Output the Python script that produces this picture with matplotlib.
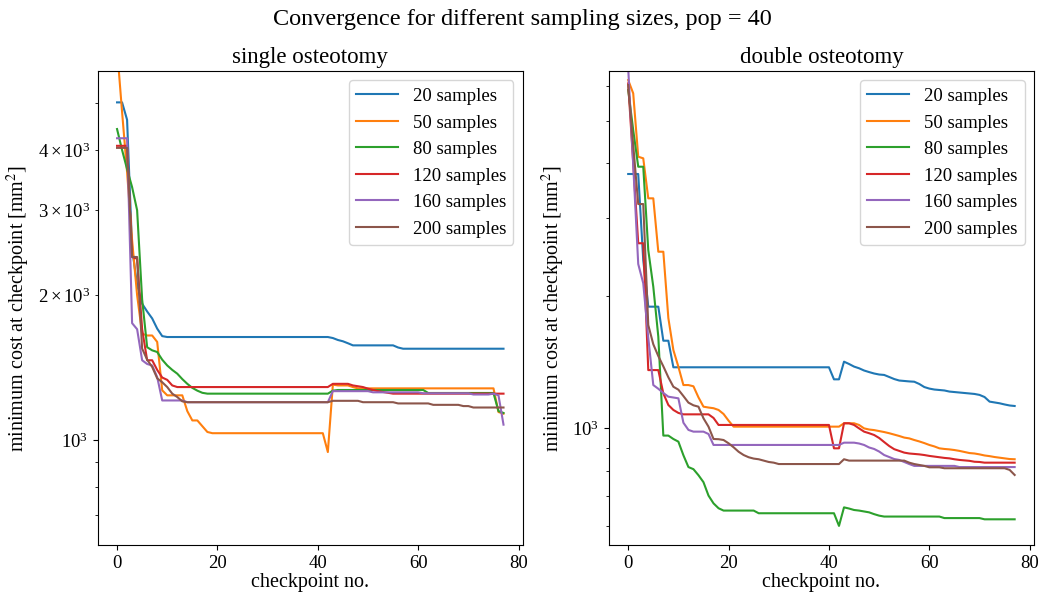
import matplotlib
matplotlib.use('Agg')
import matplotlib.pyplot as plt
import numpy as np

plt.rcParams['font.family'] = 'serif'
plt.rcParams['font.serif'] = ['Liberation Serif', 'DejaVu Serif']
plt.rcParams['mathtext.fontset'] = 'stix'
plt.rc('font', size=13.5)

checkpoints = np.arange(78)
sample_labels = ['20 samples', '50 samples', '80 samples',
                 '120 samples', '160 samples', '200 samples']

# single osteotomy, minimum cost per checkpoint
single_20 = [5020, 5020, 4620, 2500, 2100, 1920, 1850, 1790, 1705, 1645,
             1638, 1638, 1638, 1638, 1638, 1638, 1638, 1638, 1638, 1638,
             1638, 1638, 1638, 1638, 1638, 1638, 1638, 1638, 1638, 1638,
             1638, 1638, 1638, 1638, 1638, 1638, 1638, 1638, 1638, 1638,
             1638, 1638, 1638, 1630, 1615, 1605, 1590, 1574, 1574, 1574,
             1574, 1574, 1574, 1574, 1574, 1574, 1558, 1549, 1549, 1549,
             1549, 1549, 1549, 1549, 1549, 1549, 1549, 1549, 1549, 1549,
             1549, 1549, 1549, 1549, 1549, 1549, 1549, 1549]
single_50 = [6500, 4800, 3600, 2600, 2000, 1664, 1650, 1650, 1600, 1270,
             1240, 1240, 1240, 1240, 1150, 1100, 1100, 1070, 1041, 1035,
             1035, 1035, 1035, 1035, 1035, 1035, 1035, 1035, 1035, 1035,
             1035, 1035, 1035, 1035, 1035, 1035, 1035, 1035, 1035, 1035,
             1035, 1035, 946, 1305, 1300, 1300, 1300, 1290, 1282, 1282,
             1282, 1282, 1282, 1282, 1282, 1282, 1282, 1282, 1282, 1282,
             1282, 1282, 1282, 1282, 1282, 1282, 1282, 1282, 1282, 1282,
             1282, 1282, 1282, 1282, 1282, 1282, 1145, 1136]
single_80 = [4420, 4000, 3650, 3350, 3000, 1960, 1560, 1537, 1525, 1470,
             1430, 1400, 1375, 1340, 1310, 1285, 1268, 1255, 1250, 1250,
             1250, 1250, 1250, 1250, 1250, 1250, 1250, 1250, 1250, 1250,
             1250, 1250, 1250, 1250, 1250, 1250, 1250, 1250, 1250, 1250,
             1250, 1250, 1250, 1268, 1272, 1272, 1272, 1272, 1272, 1272,
             1272, 1272, 1272, 1272, 1272, 1272, 1272, 1272, 1272, 1272,
             1272, 1272, 1254, 1254, 1254, 1254, 1254, 1254, 1254, 1254,
             1254, 1254, 1254, 1254, 1254, 1254, 1150, 1140]
single_120 = [4080, 4080, 4080, 2400, 2380, 1700, 1466, 1466, 1400, 1350,
              1335, 1300, 1290, 1290, 1290, 1290, 1290, 1290, 1290, 1290,
              1290, 1290, 1290, 1290, 1290, 1290, 1290, 1290, 1290, 1290,
              1290, 1290, 1290, 1290, 1290, 1290, 1290, 1290, 1290, 1290,
              1290, 1290, 1290, 1310, 1310, 1310, 1310, 1300, 1295, 1290,
              1280, 1272, 1265, 1260, 1255, 1250, 1250, 1250, 1250, 1250,
              1250, 1250, 1250, 1250, 1250, 1250, 1250, 1250, 1250, 1250,
              1250, 1250, 1250, 1250, 1250, 1250, 1250, 1250]
single_160 = [4230, 4230, 4230, 1750, 1700, 1466, 1440, 1430, 1353, 1210,
              1210, 1210, 1210, 1210, 1200, 1200, 1200, 1200, 1200, 1200,
              1200, 1200, 1200, 1200, 1200, 1200, 1200, 1200, 1200, 1200,
              1200, 1200, 1200, 1200, 1200, 1200, 1200, 1200, 1200, 1200,
              1200, 1200, 1200, 1265, 1265, 1265, 1265, 1265, 1265, 1265,
              1265, 1258, 1258, 1258, 1258, 1258, 1258, 1258, 1258, 1258,
              1258, 1252, 1252, 1252, 1252, 1252, 1252, 1252, 1252, 1252,
              1252, 1245, 1245, 1245, 1245, 1250, 1240, 1078]
single_200 = [4040, 4040, 4040, 2400, 2400, 1550, 1470, 1420, 1345, 1320,
              1290, 1250, 1230, 1205, 1200, 1200, 1200, 1200, 1200, 1200,
              1200, 1200, 1200, 1200, 1200, 1200, 1200, 1200, 1200, 1200,
              1200, 1200, 1200, 1200, 1200, 1200, 1200, 1200, 1200, 1200,
              1200, 1200, 1200, 1208, 1208, 1208, 1208, 1208, 1208, 1200,
              1200, 1200, 1200, 1200, 1200, 1200, 1193, 1193, 1193, 1193,
              1193, 1193, 1193, 1185, 1185, 1185, 1185, 1185, 1185, 1178,
              1178, 1170, 1170, 1170, 1170, 1170, 1170, 1170]

# double osteotomy
double_20 = [3779, 3779, 3779, 2409, 1887, 1887, 1887, 1579, 1579, 1374,
             1374, 1374, 1374, 1374, 1374, 1374, 1374, 1374, 1374, 1374,
             1374, 1374, 1374, 1374, 1374, 1374, 1374, 1374, 1374, 1374,
             1374, 1374, 1374, 1374, 1374, 1374, 1374, 1374, 1374, 1374,
             1374, 1290, 1290, 1415, 1398, 1379, 1367, 1351, 1340, 1330,
             1323, 1320, 1306, 1292, 1282, 1279, 1276, 1274, 1259, 1239,
             1229, 1223, 1220, 1217, 1210, 1207, 1204, 1201, 1198, 1195,
             1189, 1176, 1148, 1143, 1138, 1131, 1125, 1122]
double_50 = [6179, 5764, 4137, 4102, 3327, 3327, 2516, 2516, 1778, 1504,
             1378, 1252, 1252, 1244, 1174, 1118, 1113, 1109, 1099, 1076,
             1039, 1007, 1007, 1007, 1007, 1007, 1007, 1007, 1007, 1007,
             1007, 1007, 1007, 1007, 1007, 1007, 1007, 1007, 1007, 1007,
             1007, 1007, 1007, 1025, 1025, 1025, 1016, 998, 992, 989,
             984, 979, 973, 966, 959, 951, 947, 939, 932, 924,
             915, 908, 899, 896, 894, 891, 887, 882, 877, 875,
             871, 866, 863, 859, 856, 853, 850, 849]
double_80 = [5865, 4756, 3926, 3926, 2538, 2095, 1613, 961, 961, 944,
             931, 867, 815, 806, 781, 753, 702, 674, 657, 649,
             649, 649, 649, 649, 649, 649, 640, 640, 640, 640,
             640, 640, 640, 640, 640, 640, 640, 640, 640, 640,
             640, 640, 599, 660, 656, 651, 649, 646, 643, 637,
             632, 629, 629, 629, 629, 629, 629, 629, 629, 629,
             629, 629, 629, 624, 624, 624, 624, 624, 624, 624,
             624, 620, 620, 620, 620, 620, 620, 620]
double_120 = [6073, 4004, 2630, 2630, 1354, 1354, 1354, 1199, 1128, 1099,
              1082, 1074, 1074, 1074, 1074, 1074, 1074, 1054, 1016, 1016,
              1016, 1016, 1016, 1016, 1016, 1016, 1016, 1016, 1016, 1016,
              1016, 1016, 1016, 1016, 1016, 1016, 1016, 1016, 1016, 1016,
              1016, 899, 899, 1025, 1025, 1016, 998, 981, 973, 964,
              949, 929, 910, 895, 887, 879, 875, 873, 871, 868,
              864, 861, 858, 855, 853, 849, 846, 844, 842, 838,
              837, 834, 834, 834, 834, 834, 834, 834]
double_160 = [6579, 3961, 2359, 2133, 1604, 1252, 1228, 1201, 1178, 1173,
              1168, 1028, 990, 981, 981, 981, 969, 915, 915, 915,
              915, 915, 915, 915, 915, 915, 915, 915, 915, 915,
              915, 915, 915, 915, 915, 915, 915, 915, 915, 915,
              915, 915, 915, 926, 926, 926, 922, 915, 903, 896,
              884, 868, 859, 850, 846, 837, 828, 820, 820, 820,
              820, 820, 820, 820, 820, 820, 815, 815, 815, 815,
              815, 815, 815, 815, 815, 815, 815, 815]
double_200 = [6019, 4398, 3229, 3229, 1714, 1550, 1457, 1381, 1304, 1241,
              1222, 1182, 1142, 1126, 1118, 1052, 1007, 944, 943, 939,
              923, 904, 883, 868, 858, 852, 849, 843, 837, 834,
              828, 828, 828, 828, 828, 828, 828, 828, 828, 828,
              828, 828, 828, 849, 843, 843, 843, 843, 843, 843,
              843, 843, 843, 843, 843, 843, 834, 828, 824, 820,
              814, 814, 814, 810, 810, 810, 810, 810, 810, 810,
              810, 810, 810, 810, 810, 810, 803, 782]

single = [single_20, single_50, single_80, single_120, single_160, single_200]
double = [double_20, double_50, double_80, double_120, double_160, double_200]

fig, ax = plt.subplots(1, 2, figsize=(10.44, 5.92), dpi=100)
fig.suptitle('Convergence for different sampling sizes, pop = 40', fontsize=17.5, y=0.985)

for y, lab in zip(single, sample_labels):
    ax[0].plot(checkpoints, y, label=lab)
ax[0].set_yscale('log')
ax[0].set_ylim(607, 5830)
ax[0].set_title('single osteotomy', fontsize=16.5)

for y, lab in zip(double, sample_labels):
    ax[1].plot(checkpoints, y, label=lab)
ax[1].set_yscale('log')
ax[1].set_ylim(542, 6478)
ax[1].set_title('double osteotomy', fontsize=16.5)

for a in ax:
    a.set_xlabel('checkpoint no.', fontsize=14.5, labelpad=1)
    a.set_ylabel('minimum cost at checkpoint [mm$^2$]', fontsize=14.5)
    a.legend(loc='upper right', fontsize=13.5, handlelength=2.2)

plt.subplots_adjust(left=0.0936, right=0.9904, bottom=0.0794, top=0.880, wspace=0.2024)
fig.savefig('out.png', dpi=100)
